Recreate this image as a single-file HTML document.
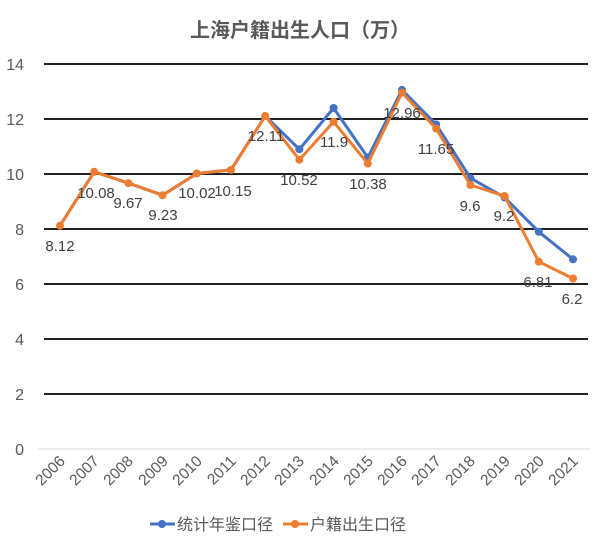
<!DOCTYPE html>
<html><head><meta charset="utf-8"><style>html,body{margin:0;padding:0;background:#fff}</style></head>
<body>
<svg width="600" height="545" xmlns="http://www.w3.org/2000/svg" font-family="'Liberation Sans','Noto Sans CJK SC',sans-serif">
<rect width="600" height="545" fill="#fff"/>
<text x="300" y="37" text-anchor="middle" font-size="20" font-weight="bold" fill="#595959">上海户籍出生人口（万）</text>
<g stroke="#222" stroke-width="2">
<line x1="44" y1="64" x2="588" y2="64"/><line x1="44" y1="119" x2="588" y2="119"/>
<line x1="44" y1="174" x2="588" y2="174"/><line x1="44" y1="229" x2="588" y2="229"/>
<line x1="44" y1="284" x2="588" y2="284"/><line x1="44" y1="339" x2="588" y2="339"/>
<line x1="44" y1="394" x2="588" y2="394"/>
</g>
<line x1="38" y1="449" x2="590" y2="449" stroke="#d9d9d9" stroke-width="1"/>
<g font-size="16" fill="#595959" text-anchor="end">
<text x="24" y="70">14</text><text x="24" y="125">12</text><text x="24" y="180">10</text>
<text x="24" y="235">8</text><text x="24" y="290">6</text><text x="24" y="345">4</text>
<text x="24" y="400">2</text><text x="24" y="455">0</text>
</g>
<g font-size="15.5" fill="#595959" text-anchor="end">
<text transform="translate(66,462) rotate(-45)">2006</text>
<text transform="translate(100,462) rotate(-45)">2007</text>
<text transform="translate(134,462) rotate(-45)">2008</text>
<text transform="translate(169,462) rotate(-45)">2009</text>
<text transform="translate(203,462) rotate(-45)">2010</text>
<text transform="translate(237,462) rotate(-45)">2011</text>
<text transform="translate(271,462) rotate(-45)">2012</text>
<text transform="translate(305,462) rotate(-45)">2013</text>
<text transform="translate(340,462) rotate(-45)">2014</text>
<text transform="translate(374,462) rotate(-45)">2015</text>
<text transform="translate(408,462) rotate(-45)">2016</text>
<text transform="translate(442,462) rotate(-45)">2017</text>
<text transform="translate(476,462) rotate(-45)">2018</text>
<text transform="translate(511,462) rotate(-45)">2019</text>
<text transform="translate(545,462) rotate(-45)">2020</text>
<text transform="translate(579,462) rotate(-45)">2021</text>
</g>
<polyline fill="none" stroke="#4472c4" stroke-width="3" stroke-linejoin="round" points="60,225.7 94.2,171.8 128.4,183.1 162.6,195.2 196.8,173.5 231,169.9 265.2,116 299.4,149.3 333.6,108 367.8,157.5 402,89.9 436.2,124.5 470.4,178.1 504.6,197.4 538.8,231.8 573,259.3"/>
<g fill="#4472c4">
<circle cx="299.4" cy="149.3" r="4"/><circle cx="333.6" cy="108" r="4"/><circle cx="367.8" cy="157.5" r="4"/><circle cx="402" cy="89.9" r="4"/><circle cx="436.2" cy="124.5" r="4"/><circle cx="470.4" cy="178.1" r="4"/><circle cx="504.6" cy="197.4" r="4"/><circle cx="538.8" cy="231.8" r="4"/><circle cx="573" cy="259.3" r="4"/>
</g>
<polyline fill="none" stroke="#ed7d31" stroke-width="3" stroke-linejoin="round" points="60,225.7 94.2,171.8 128.4,183.1 162.6,195.2 196.8,173.5 231,169.9 265.2,116 299.4,159.7 333.6,121.8 367.8,163.6 402,92.6 436.2,128.6 470.4,185 504.6,196 538.8,261.7 573,278.5"/>
<g fill="#ed7d31">
<circle cx="60" cy="225.7" r="4"/><circle cx="94.2" cy="171.8" r="4"/><circle cx="128.4" cy="183.1" r="4"/><circle cx="162.6" cy="195.2" r="4"/><circle cx="196.8" cy="173.5" r="4"/><circle cx="231" cy="169.9" r="4"/><circle cx="265.2" cy="116" r="4"/><circle cx="299.4" cy="159.7" r="4"/><circle cx="333.6" cy="121.8" r="4"/><circle cx="367.8" cy="163.6" r="4"/><circle cx="402" cy="92.6" r="4"/><circle cx="436.2" cy="128.6" r="4"/><circle cx="470.4" cy="185" r="4"/><circle cx="504.6" cy="196" r="4"/><circle cx="538.8" cy="261.7" r="4"/><circle cx="573" cy="278.5" r="4"/>
</g>
<g font-size="15" fill="#404040" text-anchor="middle">
<text x="60" y="251">8.12</text><text x="96" y="198">10.08</text><text x="128" y="208">9.67</text>
<text x="163" y="220">9.23</text><text x="197" y="198">10.02</text><text x="233" y="196">10.15</text>
<text x="266" y="141">12.11</text><text x="299" y="185">10.52</text><text x="334" y="147">11.9</text>
<text x="368" y="189">10.38</text><text x="402" y="118">12.96</text><text x="436" y="154">11.65</text>
<text x="470" y="211">9.6</text><text x="504" y="221">9.2</text><text x="538" y="287">6.81</text>
<text x="572" y="304">6.2</text>
</g>
<line x1="150" y1="524" x2="175" y2="524" stroke="#4472c4" stroke-width="3"/><circle cx="162" cy="524" r="4" fill="#4472c4"/>
<text x="177" y="530" font-size="16" fill="#595959">统计年鉴口径</text>
<line x1="283" y1="524" x2="308" y2="524" stroke="#ed7d31" stroke-width="3"/><circle cx="295" cy="524" r="4" fill="#ed7d31"/>
<text x="310" y="530" font-size="16" fill="#595959">户籍出生口径</text>
</svg>
</body></html>
